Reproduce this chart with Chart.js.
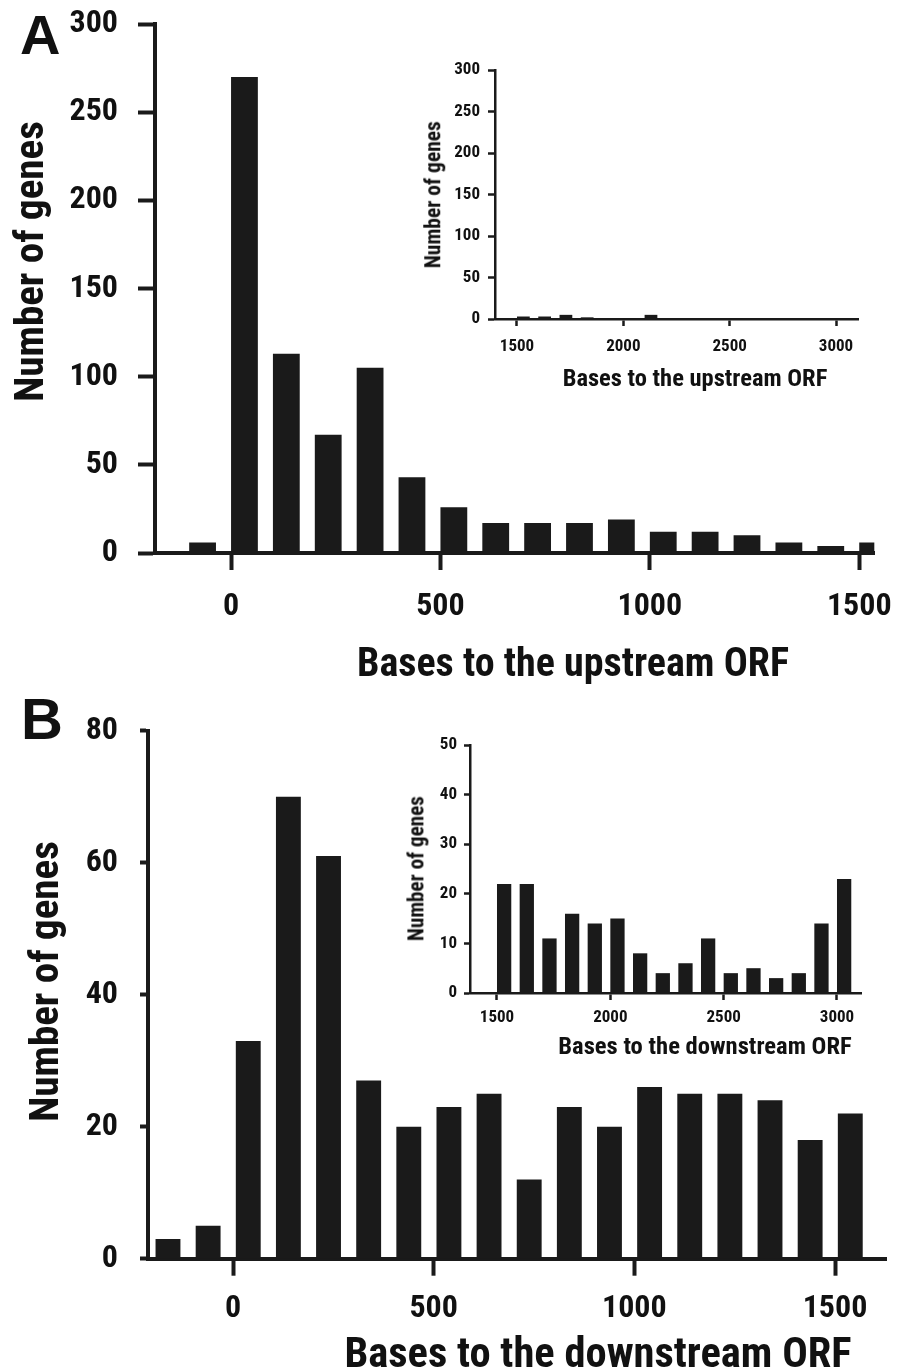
<!DOCTYPE html>
<html>
<head>
<meta charset="utf-8">
<script src="https://cdn.jsdelivr.net/npm/chart.js@4.4.1/dist/chart.umd.min.js"></script>
<style>
html,body{margin:0;padding:0;background:#fff;}
body{width:913px;height:1370px;position:relative;overflow:hidden;}
canvas{position:absolute;}
.t{position:absolute;font-family:"Roboto Condensed",Roboto,sans-serif;font-weight:bold;line-height:1;color:#111;white-space:nowrap;text-align:center;}
.p{position:absolute;font-family:"Liberation Sans",Arial,sans-serif;font-weight:bold;line-height:1;color:#111;}
</style>
</head>
<body>
<canvas id="cA" width="913" height="690" style="left:0;top:0"></canvas>
<canvas id="cAi" width="500" height="360" style="left:380px;top:40px"></canvas>
<canvas id="cB" width="913" height="680" style="left:0;top:690px"></canvas>
<canvas id="cBi" width="520" height="360" style="left:360px;top:715px"></canvas>

<div class="p" style="left:20px;top:7px;font-size:56px">A</div>
<div class="p" style="left:21px;top:690px;font-size:58px">B</div>

<div class="t" style="left:173px;width:800px;top:643px;font-size:40px">Bases to the upstream ORF</div>
<div class="t" style="left:-171px;width:400px;top:241px;height:41px;font-size:41px;transform:rotate(-90deg)">Number of genes</div>
<div class="t" style="left:298px;width:600px;top:1332px;font-size:42.5px">Bases to the downstream ORF</div>
<div class="t" style="left:-156px;width:400px;top:961px;height:41px;font-size:41px;transform:rotate(-90deg)">Number of genes</div>

<div class="t" style="left:495px;width:400px;top:366px;font-size:24.5px">Bases to the upstream ORF</div>
<div class="t" style="left:333px;width:200px;top:184px;height:21.5px;font-size:21.5px;transform:rotate(-90deg)">Number of genes</div>
<div class="t" style="left:505px;width:400px;top:1034px;font-size:24.6px">Bases to the downstream ORF</div>
<div class="t" style="left:316px;width:200px;top:858px;height:21.2px;font-size:21.2px;transform:rotate(-90deg)">Number of genes</div>

<script>
// ---------------- Data ----------------
const binWidth = 100;

const upstreamBins   = [-100, 0, 100, 200, 300, 400, 500, 600, 700, 800, 900, 1000, 1100, 1200, 1300, 1400, 1500];
const upstreamCounts = [6, 270, 113, 67, 105, 43, 26, 17, 17, 17, 19, 12, 12, 10, 6, 4, 6];

const upstreamInsetBins   = [1500, 1600, 1700, 1800, 2000, 2100, 2500];
const upstreamInsetCounts = [3, 3, 5, 2, 1, 5, 1];

const downstreamBins   = [-200, -100, 0, 100, 200, 300, 400, 500, 600, 700, 800, 900, 1000, 1100, 1200, 1300, 1400, 1500];
const downstreamCounts = [3, 5, 33, 70, 61, 27, 20, 23, 25, 12, 23, 20, 26, 25, 25, 24, 18, 22];

const downstreamInsetBins   = [1500, 1600, 1700, 1800, 1900, 2000, 2100, 2200, 2300, 2400, 2500, 2600, 2700, 2800, 2900, 3000];
const downstreamInsetCounts = [22, 22, 11, 16, 14, 15, 8, 4, 6, 11, 4, 5, 3, 4, 14, 23];

const mainXTicks  = [0, 500, 1000, 1500];
const insetXTicks = [1500, 2000, 2500, 3000];

const upYTicks        = [0, 50, 100, 150, 200, 250, 300];
const downYTicks      = [0, 20, 40, 60, 80];
const downInsetYTicks = [0, 10, 20, 30, 40, 50];

// ---------------- Helpers ----------------
const FAM = '"Roboto Condensed",Roboto,sans-serif';
const INK = '#1a1a1a';

function makeHist(id, o) {
  const barFrac = o.barFrac;
  const pts = o.bins.map((b, i) => ({ x: b + o.barShift + binWidth * barFrac / 2, y: o.counts[i] }));
  return new Chart(document.getElementById(id), {
    type: 'bar',
    data: { datasets: [{ data: pts, backgroundColor: INK, borderWidth: 0,
      barPercentage: barFrac, categoryPercentage: 1 }] },
    options: {
      responsive: false, animation: false, devicePixelRatio: 1,
      layout: { padding: { left: 0, right: o.padRight, top: o.padTop, bottom: 0 } },
      plugins: { legend: { display: false }, tooltip: { enabled: false } },
      scales: {
        x: {
          type: 'linear', min: o.xMin, max: o.xMax, offset: false, z: 1,
          afterFit: s => { s.height = o.xHeight; },
          afterBuildTicks: s => { s.ticks = o.xTicks.map(v => ({ value: v })); },
          grid: { offset: false, drawOnChartArea: false, drawTicks: true, tickLength: o.xTickLen, tickWidth: o.tickW, tickColor: INK },
          border: { display: true, width: o.axisW, color: INK },
          ticks: { color: '#111', font: { family: FAM, weight: 'bold', size: o.tickFont, lineHeight: 1 },
            padding: o.xTickPad, maxRotation: 0, autoSkip: false, callback: v => String(v) }
        },
        y: {
          min: 0, max: o.yTicks[o.yTicks.length - 1], z: 1,
          afterFit: s => {
            s.width = o.yWidth;
            s.paddingTop = Math.min(s.paddingTop || 0, o.padTop);
            s.paddingBottom = 0;
          },
          afterBuildTicks: s => { s.ticks = o.yTicks.map(v => ({ value: v })); },
          grid: { drawOnChartArea: false, drawTicks: true, tickLength: o.yTickLen, tickWidth: o.tickW, tickColor: INK },
          border: { display: true, width: o.axisW, color: INK },
          ticks: { color: '#111', font: { family: FAM, weight: 'bold', size: o.tickFont, lineHeight: 1 },
            padding: o.yTickPad, autoSkip: false, callback: v => String(v) }
        }
      }
    }
  });
}

// Panel A main
makeHist('cA', {
  bins: upstreamBins, counts: upstreamCounts, barFrac: 0.64, barShift: 0,
  xMin: -181.6, xMax: 1536, xTicks: mainXTicks, yTicks: upYTicks,
  padTop: 24, padRight: 20, yWidth: 155, xHeight: 137,
  xTickLen: 17, yTickLen: 17, tickW: 4, axisW: 4, tickFont: 32, xTickPad: 21, yTickPad: 20
});
// Panel A inset
makeHist('cAi', {
  bins: upstreamInsetBins, counts: upstreamInsetCounts, barFrac: 0.6, barShift: 0,
  xMin: 1396.6, xMax: 3103.4, xTicks: insetXTicks, yTicks: upYTicks,
  padTop: 30, padRight: 22, yWidth: 115, xHeight: 81,
  xTickLen: 7, yTickLen: 7, tickW: 2.5, axisW: 2.5, tickFont: 17, xTickPad: 12, yTickPad: 8
});
// Panel B main
makeHist('cB', {
  bins: downstreamBins, counts: downstreamCounts, barFrac: 0.62, barShift: 7,
  xMin: -211.8, xMax: 1627, xTicks: mainXTicks, yTicks: downYTicks,
  padTop: 40.7, padRight: 27, yWidth: 148, xHeight: 111.3,
  xTickLen: 17, yTickLen: 8, tickW: 4, axisW: 4, tickFont: 32, xTickPad: 17, yTickPad: 22
});
// Panel B inset
makeHist('cBi', {
  bins: downstreamInsetBins, counts: downstreamInsetCounts, barFrac: 0.63, barShift: 0,
  xMin: 1380.9, xMax: 3105.9, xTicks: insetXTicks, yTicks: downInsetYTicks,
  padTop: 30, padRight: 19, yWidth: 110, xHeight: 82,
  xTickLen: 7, yTickLen: 6, tickW: 2.5, axisW: 2.5, tickFont: 17, xTickPad: 9, yTickPad: 7
});
</script>
</body>
</html>
